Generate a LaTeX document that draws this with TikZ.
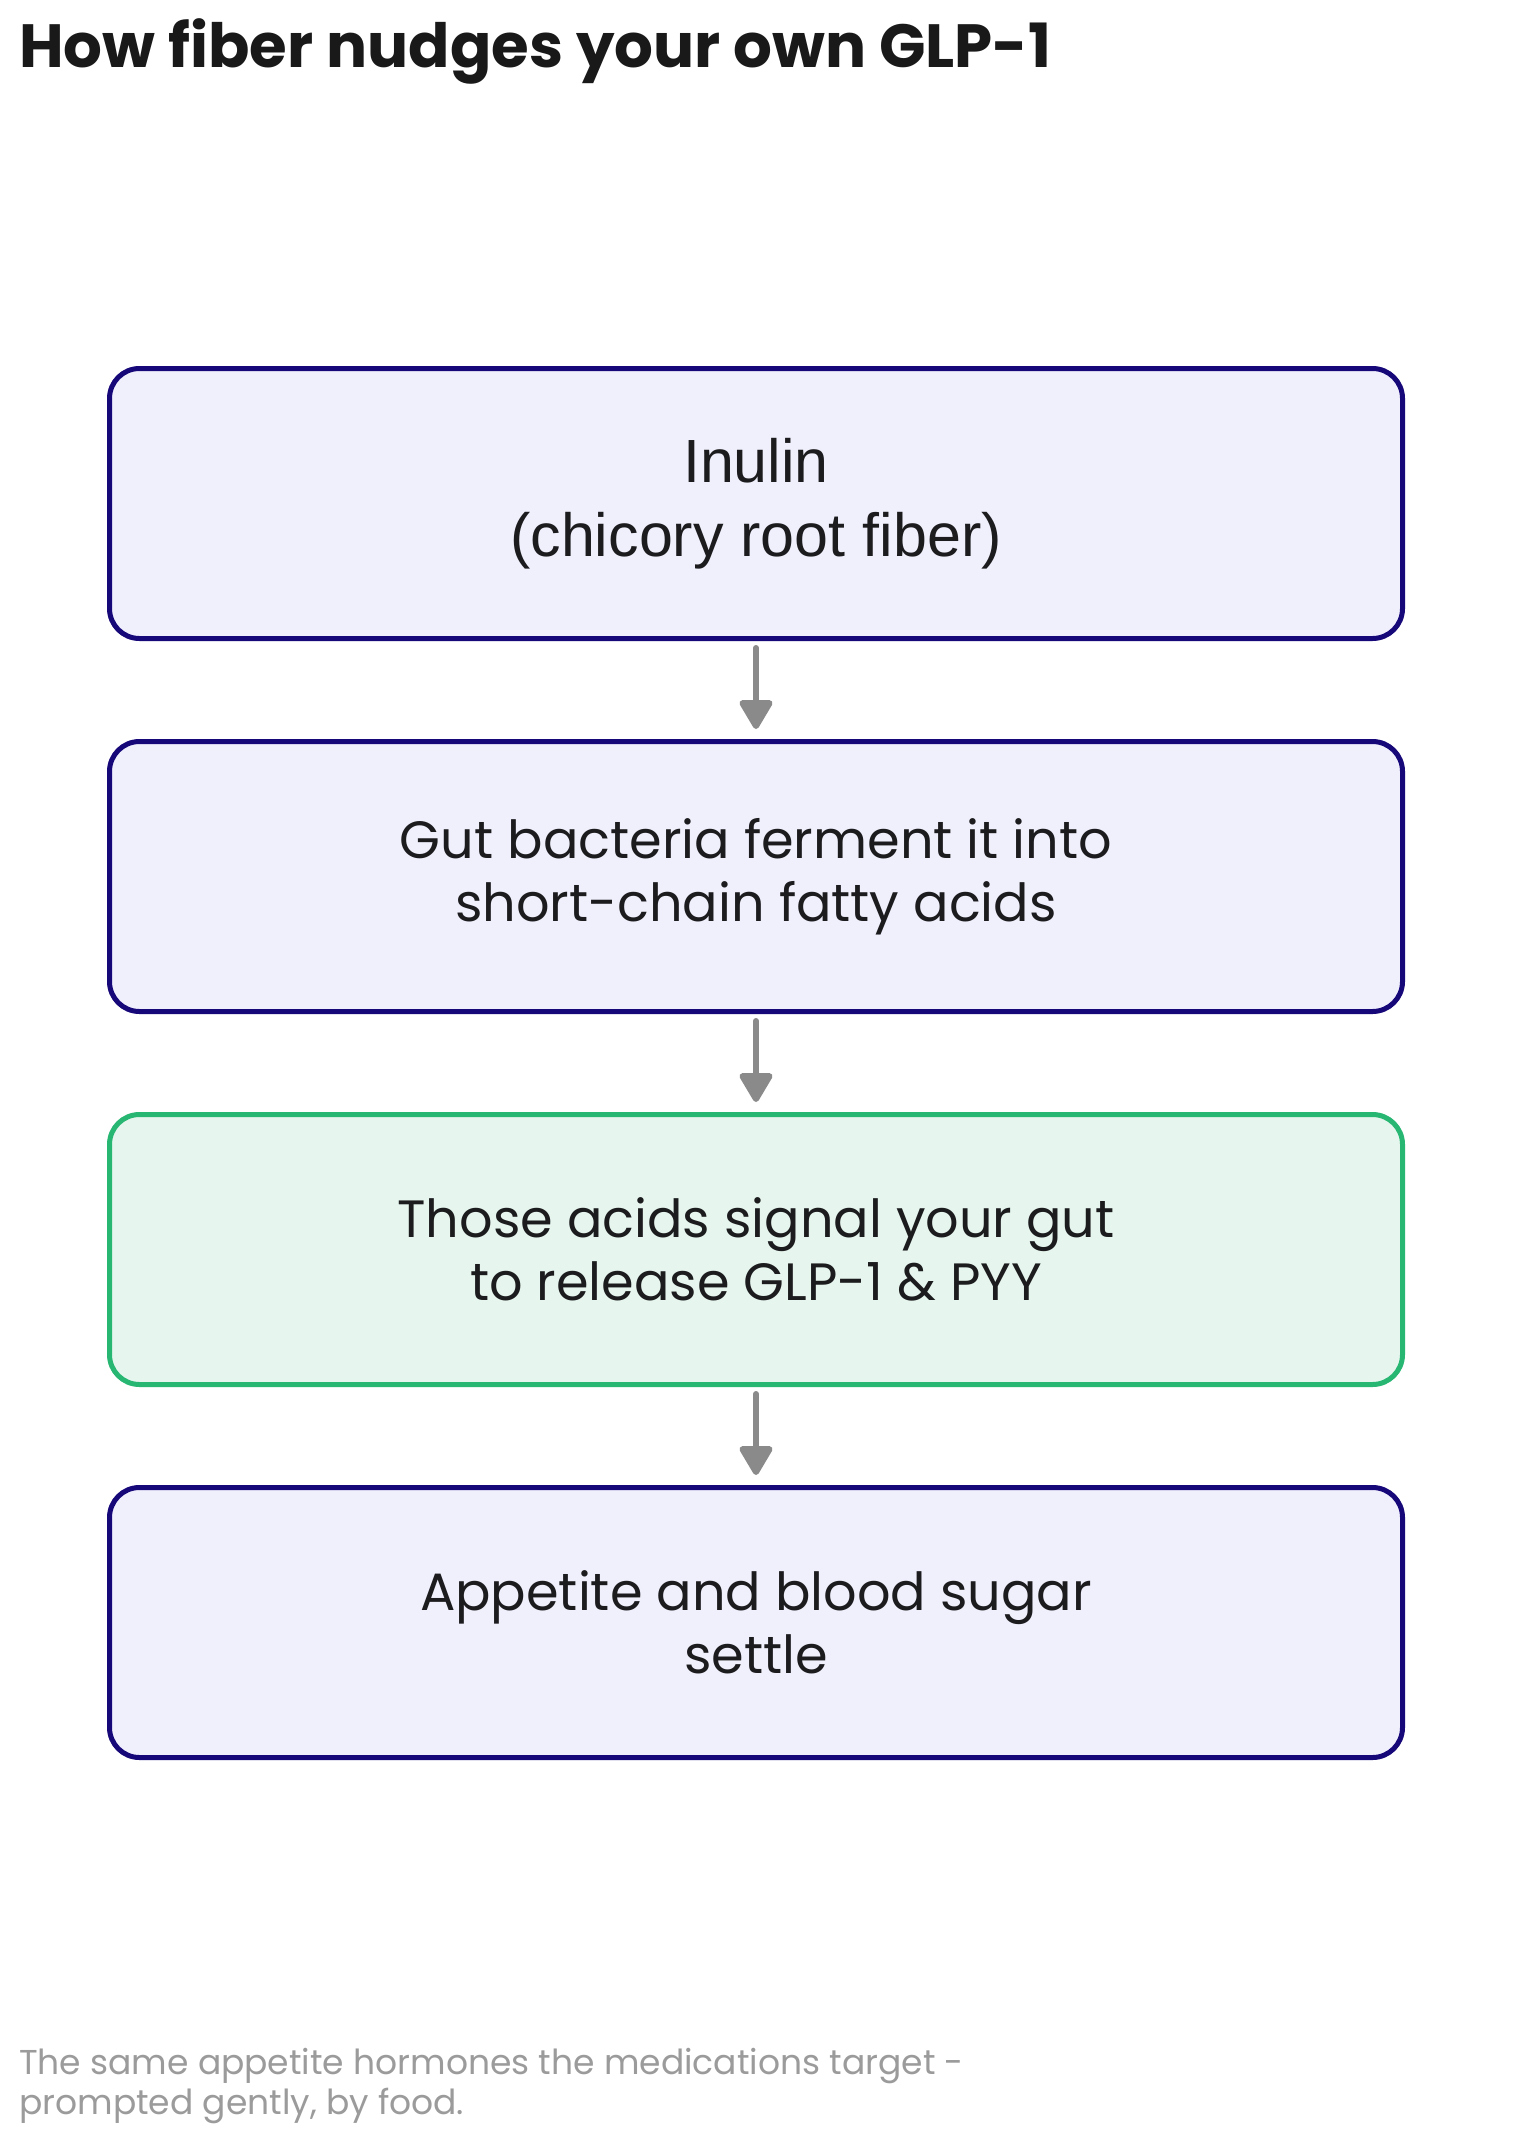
\documentclass[tikz,border=0pt]{standalone}
\usepackage{fontspec}
\setmainfont{Poppins}
\newfontfamily\boldpop{Poppins Bold}
\newfontfamily\altsans{Liberation Sans}
\usetikzlibrary{arrows.meta}
\definecolor{navyline}{RGB}{22,8,120}
\definecolor{lavfill}{RGB}{240,240,253}
\definecolor{greenline}{RGB}{40,182,115}
\definecolor{greenfill}{RGB}{230,246,238}
\definecolor{arrowgray}{RGB}{138,138,138}
\definecolor{textdark}{RGB}{28,28,30}
\definecolor{notegray}{RGB}{155,155,155}
\tikzset{
  flowbox/.style={draw=navyline, fill=lavfill, line width=5pt, rounded corners=30pt,
    minimum width=1293pt, minimum height=270pt, align=center, text=textdark,
    font=\fontsize{52.5}{63}\selectfont, inner sep=0pt},
  greenbox/.style={flowbox, draw=greenline, fill=greenfill},
  flowarrow/.style={draw=arrowgray, line width=6pt, line cap=round,
    -{Triangle[width=36pt,length=32pt,round]}, shorten <=7pt, shorten >=10pt}
}
\begin{document}
\begin{tikzpicture}[x=1pt,y=-1pt]
\useasboundingbox[fill=white] (0,0) rectangle (1512,2143);
\node[anchor=base west, text=black!90, font=\boldpop\fontsize{61}{70}\selectfont, inner sep=0pt] (title) at (19,68) {How fiber nudges your own GLP-1};
\node[flowbox, font=\altsans\fontsize{61}{74}\selectfont] (b1) at (756,503.5) {Inulin\\(chicory root fiber)};
\node[flowbox] (b2) at (756,876.5) {Gut bacteria ferment it into\\short-chain fatty acids};
\node[greenbox] (b3) at (756,1249.5) {Those acids signal your gut\\to release GLP-1 \& PYY};
\node[flowbox] (b4) at (756,1622.5) {Appetite and blood sugar\\settle};
\draw[flowarrow] (b1.south) -- (b2.north);
\draw[flowarrow] (b2.south) -- (b3.north);
\draw[flowarrow] (b3.south) -- (b4.north);
\node[anchor=base west, text=notegray, font=\fontsize{34.5}{40}\selectfont, inner sep=0pt] (note1) at (19,2074) {The same appetite hormones the medications target -};
\node[anchor=base west, text=notegray, font=\fontsize{34.5}{40}\selectfont, inner sep=0pt] (note2) at (19,2114) {prompted gently, by food.};
\end{tikzpicture}
\end{document}
